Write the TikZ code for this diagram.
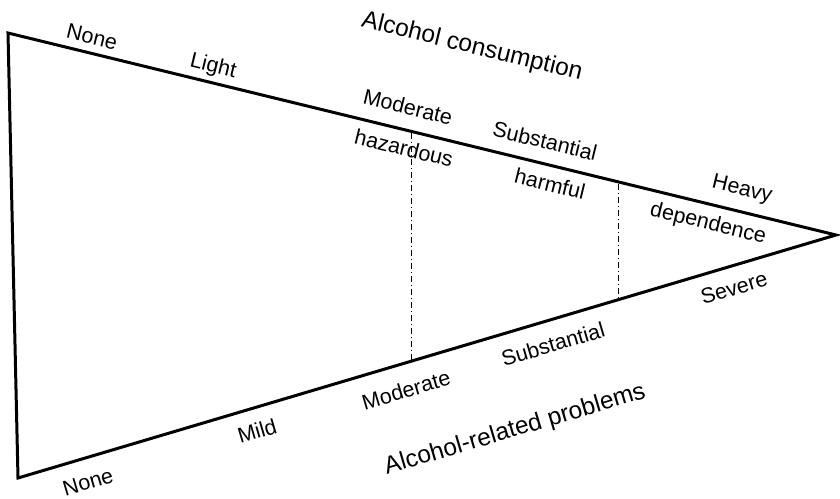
\documentclass[tikz,border=0pt]{standalone}
\usepackage{fontspec}
\setmainfont{Liberation Sans}
\begin{document}
\begin{tikzpicture}[x=1pt,y=-1pt,
  edge/.style={line width=3pt, line join=miter},
  divider/.style={line width=0.5pt, dash pattern=on 6pt off 3pt on 1pt off 3pt},
  toplab/.style={font=\fontsize{21.5}{24}\selectfont, rotate=-13.7, inner sep=0pt},
  botlab/.style={font=\fontsize{21.5}{24}\selectfont, rotate=16.5, inner sep=0pt},
  toptitle/.style={font=\fontsize{24.5}{28}\selectfont, rotate=-13.7, inner sep=0pt},
  bottitle/.style={font=\fontsize{24.5}{28}\selectfont, rotate=16.5, inner sep=0pt}]
\useasboundingbox (0,0) rectangle (840,498);
\coordinate (tl) at (8,33);
\coordinate (bl) at (18,478);
\coordinate (tip) at (836,235);
\draw[edge] (tl) -- (tip) -- (bl) -- cycle;
% dividers
\coordinate (d1t) at (411,133);
\coordinate (d1b) at (411,361);
\coordinate (d2t) at (618,184);
\coordinate (d2b) at (618,300);
\draw[divider] (d1t) -- (d1b);
\draw[divider] (d2t) -- (d2b);
% top labels
\node[toptitle] (tc) at (472,47) {Alcohol consumption};
\node[toplab] (t1) at (92,37) {None};
\node[toplab] (t2) at (213,67) {Light};
\node[toplab] (t3) at (408,107) {Moderate};
\node[toplab] (t4) at (545,141) {Substantial};
\node[toplab] (t5) at (742,190) {Heavy};
\node[toplab] (c1) at (404,148) {hazardous};
\node[toplab] (c2) at (550,184) {harmful};
\node[toplab] (c3) at (708,224) {dependence};
% bottom labels
\node[bottitle] (bc) at (515,430) {Alcohol-related problems};
\node[botlab] (b1) at (88,482) {None};
\node[botlab] (b2) at (257,431) {Mild};
\node[botlab] (b3) at (406,390) {Moderate};
\node[botlab] (b4) at (553,344) {Substantial};
\node[botlab] (b5) at (734,288) {Severe};
\end{tikzpicture}
\end{document}
